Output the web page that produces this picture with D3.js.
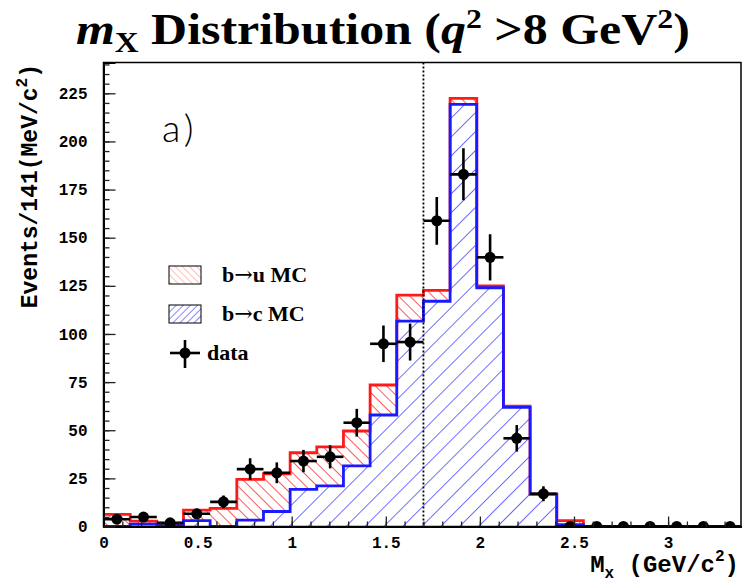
<!DOCTYPE html>
<html>
<head>
<meta charset="utf-8">
<script src="https://cdn.jsdelivr.net/npm/d3@7"></script>
<style>
  body { margin: 0; background: #fff; }
  svg { display: block; }
</style>
</head>
<body>
<div id="app"></div>
<script>
// 24 bins over 0..3.4 GeV (axis says 141 MeV per bin)
const X_MAX = 3.4;
const N_BINS = 24;
const BIN_WIDTH = X_MAX / N_BINS;

// b->c MC (blue), b->u MC stacked on top (red)
const bcMC = [0, 1.2, 0.5, 3, 0, 3.3, 7.8, 19.3, 21.1, 31.5, 57.9, 106.7,
  117, 219.3, 124, 61.9, 16.8, 1, 0, 0, 0, 0, 0, 0];
const buMC = [6.3, 1.6, 1.0, 5.5, 9.4, 21.2, 19.6, 19.0, 20.3, 18.1, 15.6, 13.5,
  5.6, 3.1, 1.0, 0.6, 0, 2, 0, 0, 0, 0, 0, 0];

const dataCounts = [3.8, 4.9, 1.9, 6.6, 12.8, 29.8, 27.9, 34, 36.2, 53.9, 94.9, 95.8,
  158.8, 182.9, 139.8, 45.8, 17, 0, 0, 0, 0, 0, 0, 0];
const dataErrors = [2, 2.2, 1.4, 2.6, 3.3, 5.6, 5.4, 5.8, 6, 7.2, 9.5, 9.6,
  12.4, 13.5, 12, 6.9, 3.9, 0, 0, 0, 0, 0, 0, 0];

const xTicks = [0, 0.5, 1, 1.5, 2, 2.5, 3];
const yTicks = [0, 25, 50, 75, 100, 125, 150, 175, 200, 225];
const CUT_MX = 1.7;

const WIDTH = 742;
const HEIGHT = 585;
const PLOT = { left: 103.5, right: 741, top: 62.5, bottom: 526.5 };

const MONO = '"Liberation Mono", "DejaVu Sans Mono", monospace';
const SERIF = '"Liberation Serif", "DejaVu Serif", serif';

const x = d3.scaleLinear().domain([0, X_MAX]).range([PLOT.left, PLOT.left + 188.2 * X_MAX]);
const y = d3.scaleLinear().domain([0, 241]).range([PLOT.bottom, PLOT.top]);

const svg = d3.select('#app')
  .append('svg')
  .attr('width', WIDTH)
  .attr('height', HEIGHT);

const defs = svg.append('defs');

function hatch(id, color, spacing, angle, width) {
  const p = defs.append('pattern')
    .attr('id', id)
    .attr('patternUnits', 'userSpaceOnUse')
    .attr('width', spacing)
    .attr('height', spacing)
    .attr('patternTransform', `rotate(${angle})`);
  p.append('line')
    .attr('x1', 0).attr('y1', 0)
    .attr('x2', 0).attr('y2', spacing)
    .attr('stroke', color)
    .attr('stroke-width', width);
}

hatch('hatch-red', '#ff0000', 8, -45, 1.3);
hatch('hatch-blue', '#1010ff', 13.4, 45, 1.2);
hatch('hatch-red-leg', '#ff7070', 5, -45, 0.9);
hatch('hatch-blue-leg', '#1010ff', 5, 45, 1);

defs.append('clipPath')
  .attr('id', 'plot-clip')
  .append('rect')
  .attr('x', PLOT.left)
  .attr('y', PLOT.top)
  .attr('width', PLOT.right - PLOT.left)
  .attr('height', PLOT.bottom - PLOT.top);

// title
const title = svg.append('text')
  .attr('x', 0)
  .attr('y', 44)
  .style('font-family', SERIF)
  .style('font-weight', 'bold')
  .style('font-size', '44px');
title.append('tspan').style('font-style', 'italic').text('m');
title.append('tspan').attr('dy', 8).style('font-size', '29px').text('X');
title.append('tspan').attr('dy', -8).text(' Distribution (');
title.append('tspan').style('font-style', 'italic').text('q');
title.append('tspan').attr('dy', -16).style('font-size', '28px').text('2');
title.append('tspan').attr('dy', 16).text(' >8 GeV');
title.append('tspan').attr('dy', -16).style('font-size', '28px').text('2');
title.append('tspan').attr('dy', 16).text(')');

// the original face is wider than Times: stretch to the same span (x 76..690)
{
  const w = title.node().getBBox().width;
  const sx = 614 / w;
  title.attr('transform', `translate(76,0) scale(${sx},1)`);
}

// histograms
function stepPoints(vals) {
  const pts = [[0, 0]];
  vals.forEach((v, i) => pts.push([i * BIN_WIDTH, v]));
  pts.push([N_BINS * BIN_WIDTH, vals[vals.length - 1]]);
  pts.push([N_BINS * BIN_WIDTH, 0]);
  return pts;
}

const totalMC = bcMC.map((v, i) => v + buMC[i]);

const area = d3.area()
  .curve(d3.curveStepAfter)
  .x(d => x(d[0]))
  .y0(y(0))
  .y1(d => y(d[1]));

const line = d3.line()
  .curve(d3.curveStepAfter)
  .x(d => x(d[0]))
  .y(d => y(d[1]));

const plot = svg.append('g').attr('clip-path', 'url(#plot-clip)');

plot.append('path')
  .attr('d', area(stepPoints(totalMC)))
  .attr('fill', 'url(#hatch-red)');

plot.append('path')
  .attr('d', area(stepPoints(bcMC)))
  .attr('fill', '#fff');

plot.append('path')
  .attr('d', area(stepPoints(bcMC)))
  .attr('fill', 'url(#hatch-blue)');

plot.append('path')
  .attr('d', line(stepPoints(totalMC)))
  .attr('fill', 'none')
  .attr('stroke', '#ff1a1a')
  .attr('stroke-width', 2.8);

plot.append('path')
  .attr('d', line(stepPoints(bcMC)))
  .attr('fill', 'none')
  .attr('stroke', '#1a1aff')
  .attr('stroke-width', 2.8);

// q^2 cut line
plot.append('line')
  .attr('x1', x(CUT_MX)).attr('x2', x(CUT_MX))
  .attr('y1', PLOT.top).attr('y2', PLOT.bottom)
  .attr('stroke', '#000')
  .attr('stroke-width', 1.8)
  .attr('stroke-dasharray', '2,2');

// data points
const points = plot.append('g')
  .selectAll('g.point')
  .data(dataCounts.map((v, i) => ({ c: (i + 0.5) * BIN_WIDTH, v, e: dataErrors[i] })))
  .enter()
  .append('g')
  .attr('class', 'point');

points.append('line')
  .attr('x1', d => x(d.c - BIN_WIDTH / 2))
  .attr('x2', d => x(d.c + BIN_WIDTH / 2))
  .attr('y1', d => y(d.v))
  .attr('y2', d => y(d.v))
  .attr('stroke', '#000')
  .attr('stroke-width', 2.6);

points.append('line')
  .attr('x1', d => x(d.c))
  .attr('x2', d => x(d.c))
  .attr('y1', d => y(d.v - d.e))
  .attr('y2', d => y(d.v + d.e))
  .attr('stroke', '#000')
  .attr('stroke-width', 2.6);

points.append('circle')
  .attr('cx', d => x(d.c))
  .attr('cy', d => y(d.v))
  .attr('r', 5.5)
  .attr('fill', '#000');

// frame
svg.append('rect')
  .attr('x', PLOT.left)
  .attr('y', PLOT.top)
  .attr('width', PLOT.right - PLOT.left)
  .attr('height', PLOT.bottom - PLOT.top)
  .attr('fill', 'none')
  .attr('stroke', '#000')
  .attr('stroke-width', 1.5);

// axes
svg.append('g')
  .attr('transform', `translate(0,${PLOT.bottom})`)
  .call(d3.axisBottom(x).tickValues(xTicks).tickSize(-10).tickPadding(10)
    .tickFormat(d3.format('')));

svg.append('g')
  .attr('transform', `translate(0,${PLOT.bottom})`)
  .call(d3.axisBottom(x).tickValues(d3.range(1, 34).map(i => i / 10)).tickSize(-5).tickFormat(''));

svg.append('g')
  .attr('transform', `translate(${PLOT.left},0)`)
  .call(d3.axisLeft(y).tickValues(yTicks).tickSize(-12).tickPadding(16));

svg.append('g')
  .attr('transform', `translate(${PLOT.left},0)`)
  .call(d3.axisLeft(y).tickValues(d3.range(0, 241, 5)).tickSize(-6).tickFormat(''));

svg.selectAll('.domain')
  .attr('stroke', '#000')
  .attr('stroke-width', 2);
svg.selectAll('.tick line')
  .attr('stroke', '#222')
  .attr('stroke-width', 1.3);
svg.selectAll('.tick text')
  .style('font-family', MONO)
  .style('font-weight', 'bold')
  .style('font-size', '16px')
  .attr('fill', '#000');

// axis titles
const xTitle = svg.append('text')
  .attr('x', 739)
  .attr('y', 572)
  .attr('text-anchor', 'end')
  .style('font-family', MONO)
  .style('font-weight', 'bold')
  .style('font-size', '24px');
xTitle.append('tspan').text('M');
xTitle.append('tspan').attr('dy', 6).style('font-size', '16px').text('x');
xTitle.append('tspan').attr('dy', -6).text(' (GeV/c');
xTitle.append('tspan').attr('dy', -11).style('font-size', '16px').text('2');
xTitle.append('tspan').attr('dy', 11).text(')');

const yTitle = svg.append('text')
  .attr('transform', 'translate(37,64) rotate(-90)')
  .attr('text-anchor', 'end')
  .style('font-family', MONO)
  .style('font-weight', 'bold')
  .style('font-size', '23px');
yTitle.append('tspan').text('Events/141(MeV/c');
yTitle.append('tspan').attr('dy', -10).style('font-size', '16px').text('2');
yTitle.append('tspan').attr('dy', 10).text(')');

// panel label
svg.append('text')
  .attr('x', 162)
  .attr('y', 142)
  .style('font-family', 'Lato, "DejaVu Sans", sans-serif')
  .style('font-weight', 300)
  .style('font-size', '38px')
  .style('letter-spacing', '4px')
  .text('a)');

// legend
const legend = svg.append('g');

legend.append('rect')
  .attr('x', 169).attr('y', 266).attr('width', 32).attr('height', 18)
  .attr('fill', 'url(#hatch-red-leg)')
  .attr('stroke', '#000').attr('stroke-width', 1);
legend.append('rect')
  .attr('x', 169).attr('y', 305).attr('width', 32).attr('height', 18)
  .attr('fill', 'url(#hatch-blue-leg)')
  .attr('stroke', '#000').attr('stroke-width', 1);

legend.append('line')
  .attr('x1', 170).attr('x2', 200).attr('y1', 353).attr('y2', 353)
  .attr('stroke', '#000').attr('stroke-width', 2.6);
legend.append('line')
  .attr('x1', 185).attr('x2', 185).attr('y1', 340).attr('y2', 368)
  .attr('stroke', '#000').attr('stroke-width', 2.6);
legend.append('circle')
  .attr('cx', 185).attr('cy', 353).attr('r', 5.5).attr('fill', '#000');

const legendText = [
  { parts: ['b', '\u2192', 'u MC'], x: 222, y: 282 },
  { parts: ['b', '\u2192', 'c MC'], x: 222, y: 321 },
  { parts: ['data'], x: 207, y: 360 }
];
const legendLabels = legend.selectAll('text.leg')
  .data(legendText)
  .enter()
  .append('text')
  .attr('class', 'leg')
  .attr('x', d => d.x)
  .attr('y', d => d.y)
  .style('font-family', SERIF)
  .style('font-weight', 'bold')
  .style('font-size', '22px');

legendLabels.selectAll('tspan')
  .data(d => d.parts)
  .enter()
  .append('tspan')
  .style('font-family', t => t === '\u2192' ? '"DejaVu Serif", serif' : null)
  .style('font-weight', t => t === '\u2192' ? 'normal' : null)
  .text(t => t);
</script>
</body>
</html>
